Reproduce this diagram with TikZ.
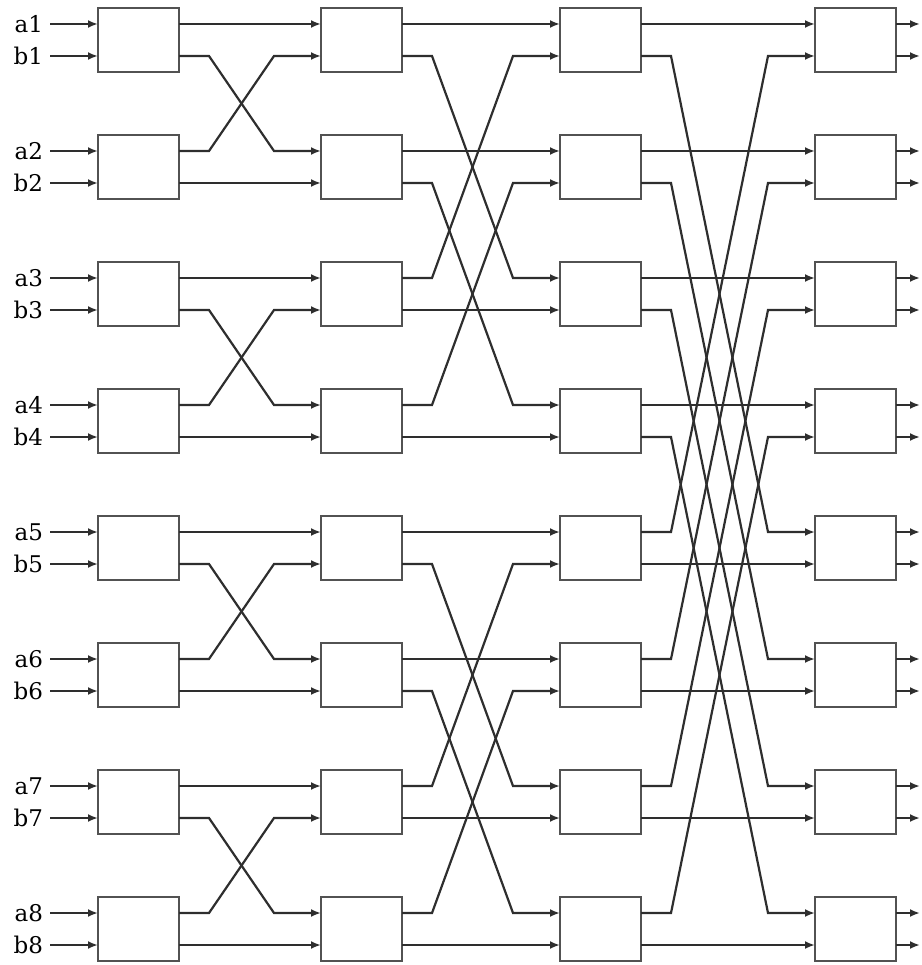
\documentclass[tikz,border=0pt]{standalone}
\usepackage{fontspec}
\setmainfont{DejaVu Serif}
\usetikzlibrary{arrows.meta}
\begin{document}
\begin{tikzpicture}[x=1pt,y=-1pt,
  blk/.style={draw=black!68, line width=2pt, minimum width=81pt, minimum height=64pt,
    inner sep=0pt, outer sep=0pt, anchor=north west, fill=white},
  wire/.style={draw=black!82, line width=2.2pt, -{Latex[length=10pt,width=8pt]}},
  lbl/.style={anchor=east, inner xsep=2pt, outer xsep=5pt, inner ysep=1pt,
    font=\fontsize{23}{23}\selectfont}]
\useasboundingbox (0,0) rectangle (921,965);
% boxes and their ports
\foreach \k/\xx in {1/98, 2/321, 3/560, 4/815} {
  \foreach \i in {0,...,7} {
    \pgfmathsetmacro\yy{8+127*\i}
    \node[blk] (c\k-\i) at (\xx,\yy) {};
    \coordinate (c\k-\i-ia) at ([yshift=-16pt]c\k-\i.north west);
    \coordinate (c\k-\i-ib) at ([yshift=16pt]c\k-\i.south west);
    \coordinate (c\k-\i-oa) at ([yshift=-16pt]c\k-\i.north east);
    \coordinate (c\k-\i-ob) at ([yshift=16pt]c\k-\i.south east);
  }
}
% input labels and input arrows
\foreach \i in {0,...,7} {
  \pgfmathtruncatemacro\m{\i+1}
  \node[lbl] (la\i) at (c1-\i-ia -| 50,0) {a\m};
  \node[lbl] (lb\i) at (c1-\i-ib -| 50,0) {b\m};
  \draw[wire] (la\i) -- (c1-\i-ia);
  \draw[wire] (lb\i) -- (c1-\i-ib);
}
% output arrows
\foreach \i in {0,...,7} {
  \coordinate (ea\i) at ([xshift=24pt]c4-\i-oa);
  \coordinate (eb\i) at ([xshift=24pt]c4-\i-ob);
  \draw[wire] (c4-\i-oa) -- (ea\i);
  \draw[wire] (c4-\i-ob) -- (eb\i);
}
% butterfly stages
\foreach \k/\d in {1/1, 2/2, 3/4} {
  \pgfmathtruncatemacro\n{\k+1}
  \foreach \i in {0,...,7} {
    \pgfmathtruncatemacro\g{mod(\i,2*\d)}
    \ifnum\g<\d
      \pgfmathtruncatemacro\j{\i+\d}
      \draw[wire] (c\k-\i-oa) -- (c\n-\i-ia);
      \draw[wire] (c\k-\i-ob) -- ++(30,0) -- ([xshift=-47pt]c\n-\j-ia) -- (c\n-\j-ia);
      \draw[wire] (c\k-\j-oa) -- ++(30,0) -- ([xshift=-47pt]c\n-\i-ib) -- (c\n-\i-ib);
      \draw[wire] (c\k-\j-ob) -- (c\n-\j-ib);
    \fi
  }
}
\end{tikzpicture}
\end{document}
